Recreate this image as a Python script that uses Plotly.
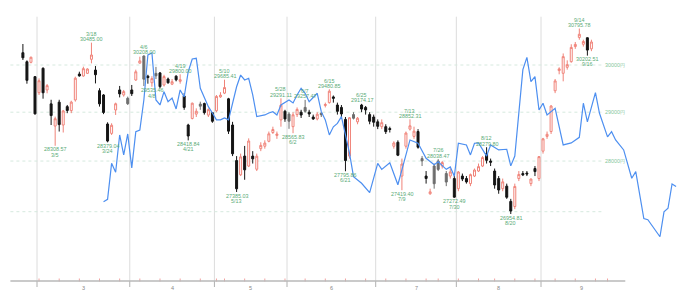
import numpy as np
import pandas as pd
import plotly.graph_objects as go

# ---------------- data ----------------
holidays = ["2021-02-23", "2021-04-29", "2021-05-03", "2021-05-04", "2021-05-05",
            "2021-07-22", "2021-07-23", "2021-08-09", "2021-09-20", "2021-09-23"]
calendar = [d for d in pd.bdate_range("2021-02-22", "2021-09-30")
            if d.strftime("%Y-%m-%d") not in holidays]

opens = [30266, 30071, 30058, 29750, 29409, 29929, 29467, 29174, 28713, 29210,
         28734, 29116, 29034, 29256, 29806, 29764, 29821, 30123, 29892, 29452,
         29361, 28755, 28562, 29047, 29467, 29361, 29291, 29467, 29679, 30040,
         30194, 29760, 29620, 29820, 29830, 29573, 29700, 29590, 29760, 29650,
         29340, 28734, 28870, 28960, 29170, 29180, 28940, 28990, 29030, 29320,
         29400, 29280, 28734, 28010, 27725, 28100, 27900, 28100, 27836, 28250,
         28300, 28400, 28580, 28520, 28840, 29020, 28960, 28700, 28950, 29000,
         29100, 29000, 28900, 28860, 28980, 29140, 29200, 29320, 29150, 29100,
         28850, 28100, 28950, 28800, 29150, 29100, 28950, 28900, 28800, 28700,
         28700, 28660, 28300, 28380, 27700, 28300, 28650, 28500, 28600, 28050,
         27700, 27350, 27900, 28000, 27900, 27750, 27700, 27650, 27450, 27700,
         27650, 27550, 27700, 27800, 27900, 28150, 28000, 27800, 27650, 27450,
         27500, 27200, 27100, 27650, 27750, 27760, 27550, 27850, 27650, 28200,
         28500, 28600, 29450, 29880, 29822, 29950, 30072, 30400, 30600, 30450,
         30593, 30350]
highs = [30456, 30100, 30180, 29760, 29713, 29950, 29594, 29260, 28908, 29260,
         29047, 29151, 29240, 29750, 29856, 29964, 29929, 30485.00, 29978, 29503,
         29380, 28790, 28770, 29200, 29552, 29467, 29326, 29573, 29900, 30180,
         30208, 29790, 29760, 29960, 29850, 29790, 29730, 29700, 29780, 29800,
         29400, 28760, 29200, 29080, 29220, 29200, 29080, 29000, 29360, 29420,
         29685.41, 29300, 28800, 28100, 28150, 28306, 28460, 28200, 28150, 28380,
         28420, 28600, 28700, 28600, 29291.11, 29050, 29000, 29000, 29100, 29050,
         29257.47, 29050, 28950, 29000, 29000, 29200, 29480.85, 29350, 29200, 29150,
         28900, 28900, 29000, 28900, 29174.17, 29130, 29000, 28950, 28850, 28850,
         28750, 28700, 28400, 28420, 28050, 28600, 28852.31, 28700, 28650, 28100,
         27800, 27450, 27950, 28038.47, 28000, 27800, 27850, 27700, 27800, 27750,
         27700, 27750, 27850, 27950, 28100, 28279.80, 28050, 27850, 27700, 27650,
         27550, 27250, 27550, 27800, 27800, 27800, 27650, 27900, 28100, 28470,
         28600, 29150, 29700, 29950, 30250, 30100, 30450, 30500, 30795.78, 30550,
         30600, 30550]
lows = [30108, 29600, 30036, 28950, 29361, 29283, 29396, 28734, 28308.57, 28600,
        28580, 28980, 28980, 29221, 29750, 29750, 29806, 30036, 29606, 29117,
        28960, 28379.04, 28530, 28943, 29310, 29326, 29151, 29340, 29660, 30030,
        29550, 29600, 29535.46, 29700, 29500, 29540, 29600, 29570, 29650, 29600,
        29050, 28418.84, 28850, 28900, 29050, 28950, 28900, 28780, 29000, 29300,
        29380, 28550, 28100, 27385.03, 27700, 27626, 27880, 27950, 27800, 28200,
        28250, 28380, 28550, 28450, 28700, 28800, 28656, 28565.83, 28900, 28880,
        28990, 28900, 28840, 28830, 28900, 29100, 29180, 29200, 28950, 28900,
        27795.86, 28050, 28850, 28750, 29000, 28950, 28750, 28700, 28650, 28650,
        28550, 28580, 28250, 28100, 27419.40, 28250, 28620, 28450, 28250, 27900,
        27550, 27330, 27450, 27800, 27850, 27500, 27650, 27272.49, 27400, 27600,
        27550, 27500, 27680, 27780, 27880, 27950, 27900, 27450, 27350, 27400,
        27250, 26954.81, 27050, 27600, 27700, 27700, 27500, 27700, 27600, 28150,
        28450, 28550, 29400, 29800, 29650, 29900, 30050, 30350, 30550, 30400,
        30202.51, 30300]
closes = [30156, 29671, 30168, 28966, 29663, 29408, 29559, 28930, 28864, 28743,
          29027, 29036, 29211, 29717, 29766, 29921, 29914, 30216, 29792, 29174,
          28995, 28405, 28729, 29176, 29384, 29432, 29178, 29388, 29854, 30089,
          29696, 29730, 29709, 29768, 29538, 29751, 29620, 29642, 29683, 29685,
          29100, 28508, 29188, 29020, 29126, 28991, 29053, 28812, 29331, 29357,
          29518, 28608, 28147, 27448, 28084, 27824, 28406, 28044, 28098, 28317,
          28364, 28553, 28642, 28549, 29149, 28860, 28814, 28946, 29058, 28941,
          29019, 28963, 28860, 28958, 28948, 29161, 29441, 29291, 29018, 28964,
          28010, 28884, 28874, 28875, 29066, 29048, 28812, 28791, 28707, 28783,
          28598, 28643, 28366, 28118, 27940, 28569, 28718, 28608, 28279, 28003,
          27652, 27388, 27548, 27833, 27970, 27581, 27782, 27283, 27781, 27641,
          27584, 27728, 27820, 27888, 28070, 28015, 27977, 27523, 27424, 27585,
          27281, 27013, 27494, 27732, 27724, 27742, 27641, 27789, 28089, 28451,
          28543, 29128, 29659, 29916, 30181, 30008, 30381, 30447, 30670, 30511,
          30323, 30500]
gray_days = [26, 30, 33, 44, 66, 70, 74, 82, 99, 102, 103, 105]

# second series (blue line): trading-day number and value
blue_day = [20, 21, 22, 23, 24, 25, 26, 27, 28, 29, 30, 31, 32, 33, 34, 35, 36, 37, 38,
            39, 40, 41, 42, 43, 44, 45, 46, 47, 48, 49, 50, 51, 53, 54, 55, 56, 57, 58,
            60, 61, 62, 63, 64, 66, 67, 68, 69, 70, 71, 73, 74, 75, 76, 77, 78, 79, 81,
            82, 84, 86, 88, 89, 91, 93, 96, 98, 100, 102, 103, 105, 106, 107, 108, 110,
            111, 112, 113, 115, 116, 118, 120, 121, 122, 124, 125, 126, 127, 128, 129,
            130, 132, 134, 136, 138, 139, 140, 142, 143, 145, 146, 147, 149, 151, 152,
            154, 155, 158, 159, 160, 161, 162]
blue_val = [27195, 27240, 27954, 27775, 28530, 28124, 28550, 27862, 28597, 28632,
            29256, 30216, 30260, 29256, 29151, 29431, 29220, 29297, 29067, 29467,
            29319, 29856, 30129, 30145, 29502, 29324, 29115, 28983, 28840, 28840,
            28881, 28840, 29535, 29785, 29679, 29715, 29361, 28908, 28943, 28983,
            29011, 28943, 29151, 29256, 29194, 29361, 29502, 29397, 29220, 29397,
            29011, 28840, 28530, 28698, 28768, 28908, 28158, 27687, 27557, 27373,
            27954, 27834, 27966, 27527, 28428, 28361, 28056, 27924, 27984, 27834,
            27882, 27696, 28361, 28326, 28124, 28361, 28367, 28100, 28326, 28225,
            28238, 27903, 28100, 29900, 30166, 29643, 29750, 29047, 29188, 28943,
            29080, 28326, 28367, 28482, 29188, 28800, 29410, 28977, 28490, 28597,
            28428, 28225, 27657, 27788, 26867, 26846, 26518, 26998, 27066, 27543,
            27495]

high_marks = ["2021-03-18", "2021-04-06", "2021-04-19", "2021-05-10", "2021-05-28",
              "2021-06-07", "2021-06-15", "2021-06-25", "2021-07-13", "2021-07-26",
              "2021-08-12", "2021-09-14"]
low_marks = ["2021-03-05", "2021-03-24", "2021-04-08", "2021-04-21", "2021-05-13",
             "2021-06-02", "2021-06-21", "2021-07-09", "2021-07-30", "2021-08-20",
             "2021-09-16"]

price_lines = [27000, 28000, 29000, 30000]
price_labels = ["", "28000円", "29000円", "30000円"]

# ---------------- styling constants ----------------
RED = "#f08379"
BLACK = "#141414"
GRAY = "#6e6e6e"
BLUE = "#4d8ff0"
GREEN = "#5aab76"
FONT = "Liberation Sans"
PLOT_H = 281.0

n = len(closes)
days = calendar[:n]
day_no = list(range(n))

fig = go.Figure()

def subset(ids):
    return dict(x=[day_no[i] for i in ids], open=[opens[i] for i in ids],
                high=[highs[i] for i in ids], low=[lows[i] for i in ids],
                close=[closes[i] for i in ids])

normal = [i for i in range(n) if i not in gray_days]
fig.add_trace(go.Candlestick(**subset(normal),
    increasing=dict(line=dict(color=RED, width=1), fillcolor="white"),
    decreasing=dict(line=dict(color=BLACK, width=1), fillcolor=BLACK),
    whiskerwidth=0, showlegend=False, hoverinfo="skip"))
fig.add_trace(go.Candlestick(**subset(gray_days),
    increasing=dict(line=dict(color=RED, width=1), fillcolor="white"),
    decreasing=dict(line=dict(color=GRAY, width=1), fillcolor=GRAY),
    whiskerwidth=0, showlegend=False, hoverinfo="skip"))

fig.add_trace(go.Scatter(x=blue_day, y=blue_val, mode="lines",
                         line=dict(color=BLUE, width=1.2), showlegend=False,
                         hoverinfo="skip"))

# month boundaries from the calendar
months = [d.month for d in calendar]
bounds = [i - 0.5 for i in range(1, len(calendar)) if months[i] != months[i - 1]]
axis_start = -3.1
axis_end = len(calendar) + 0.4

shapes = []
# price grid lines (shape coordinates on a log axis are given in data units)
grid_end = n + 1.5
for p in price_lines:
    shapes.append(dict(type="line", xref="x", yref="y", x0=axis_start, x1=grid_end,
                       y0=p, y1=p, layer="below",
                       line=dict(color="#d6e9de", width=1, dash="dot")))
for b in bounds:
    shapes.append(dict(type="line", xref="x", yref="paper", x0=b, x1=b,
                       y0=0, y1=1 - 16.7 / PLOT_H, line=dict(color="#dcdcdc", width=1),
                       layer="below"))
    shapes.append(dict(type="line", xref="x", yref="paper", x0=b, x1=b,
                       y0=-6 / PLOT_H, y1=0, line=dict(color="#b0b0b0", width=1)))
# weekly ticks
weeks = [d.isocalendar()[1] for d in calendar]
for i in range(1, len(calendar)):
    if weeks[i] != weeks[i - 1]:
        shapes.append(dict(type="line", xref="x", yref="paper", x0=i, x1=i,
                           y0=-0.5 / PLOT_H, y1=2.5 / PLOT_H,
                           line=dict(color="#f3a2a0", width=1)))
# axis line
shapes.append(dict(type="line", xref="x", yref="paper", x0=axis_start, x1=axis_end,
                   y0=0, y1=0, line=dict(color="#b8b8b8", width=1.5)))

annotations = []
for k in range(len(bounds)):
    lo = bounds[k]
    hi = bounds[k + 1] if k + 1 < len(bounds) else len(calendar) - 0.5
    annotations.append(dict(x=(lo + hi) / 2, y=0, xref="x", yref="paper",
                            text=str(calendar[int(lo + 0.5)].month), showarrow=False,
                            yanchor="top", yshift=-1.5,
                            font=dict(family=FONT, size=5.5, color="#888888")))
for p, t in zip(price_lines, price_labels):
    if t:
        annotations.append(dict(x=grid_end + 0.4, y=np.log10(p), xref="x", yref="y",
                                text=t, showarrow=False, xanchor="left",
                                font=dict(family=FONT, size=5.4, color="#86c79c")))

date_index = {d.strftime("%Y-%m-%d"): i for i, d in enumerate(days)}
def md(d):
    return f"{d.month}/{d.day}"
for ds in high_marks:
    i = date_index[ds]
    y = np.log10(highs[i])
    annotations.append(dict(x=i, y=y, xref="x", yref="y", text=f"{highs[i]:.2f}",
                            showarrow=False, yshift=3.6,
                            font=dict(family=FONT, size=5.4, color=GREEN)))
    annotations.append(dict(x=i, y=y, xref="x", yref="y", text=md(days[i]),
                            showarrow=False, yshift=8.8,
                            font=dict(family=FONT, size=5.4, color=GREEN)))
for ds in low_marks:
    i = date_index[ds]
    y = np.log10(lows[i])
    annotations.append(dict(x=i, y=y, xref="x", yref="y", text=f"{lows[i]:.2f}",
                            showarrow=False, yshift=-3.6,
                            font=dict(family=FONT, size=5.4, color=GREEN)))
    annotations.append(dict(x=i, y=y, xref="x", yref="y", text=md(days[i]),
                            showarrow=False, yshift=-8.8,
                            font=dict(family=FONT, size=5.4, color=GREEN)))

px_per_day = 4.032
first_px = 22.9
x0 = -first_px / px_per_day
x1 = (688 - first_px) / px_per_day
top_log = np.log10(30000) + 65 / 3205.9
bot_log = np.log10(30000) - 216 / 3205.9

fig.update_layout(
    width=688, height=295,
    margin=dict(l=0, r=0, t=0, b=14),
    paper_bgcolor="white", plot_bgcolor="white",
    xaxis=dict(range=[x0, x1], showgrid=False, zeroline=False, showticklabels=False,
               showline=False, rangeslider=dict(visible=False), fixedrange=True),
    yaxis=dict(type="log", range=[bot_log, top_log], showgrid=False, zeroline=False,
               showticklabels=False, showline=False, fixedrange=True),
    shapes=shapes, annotations=annotations,
)

fig.write_html("out.html")
